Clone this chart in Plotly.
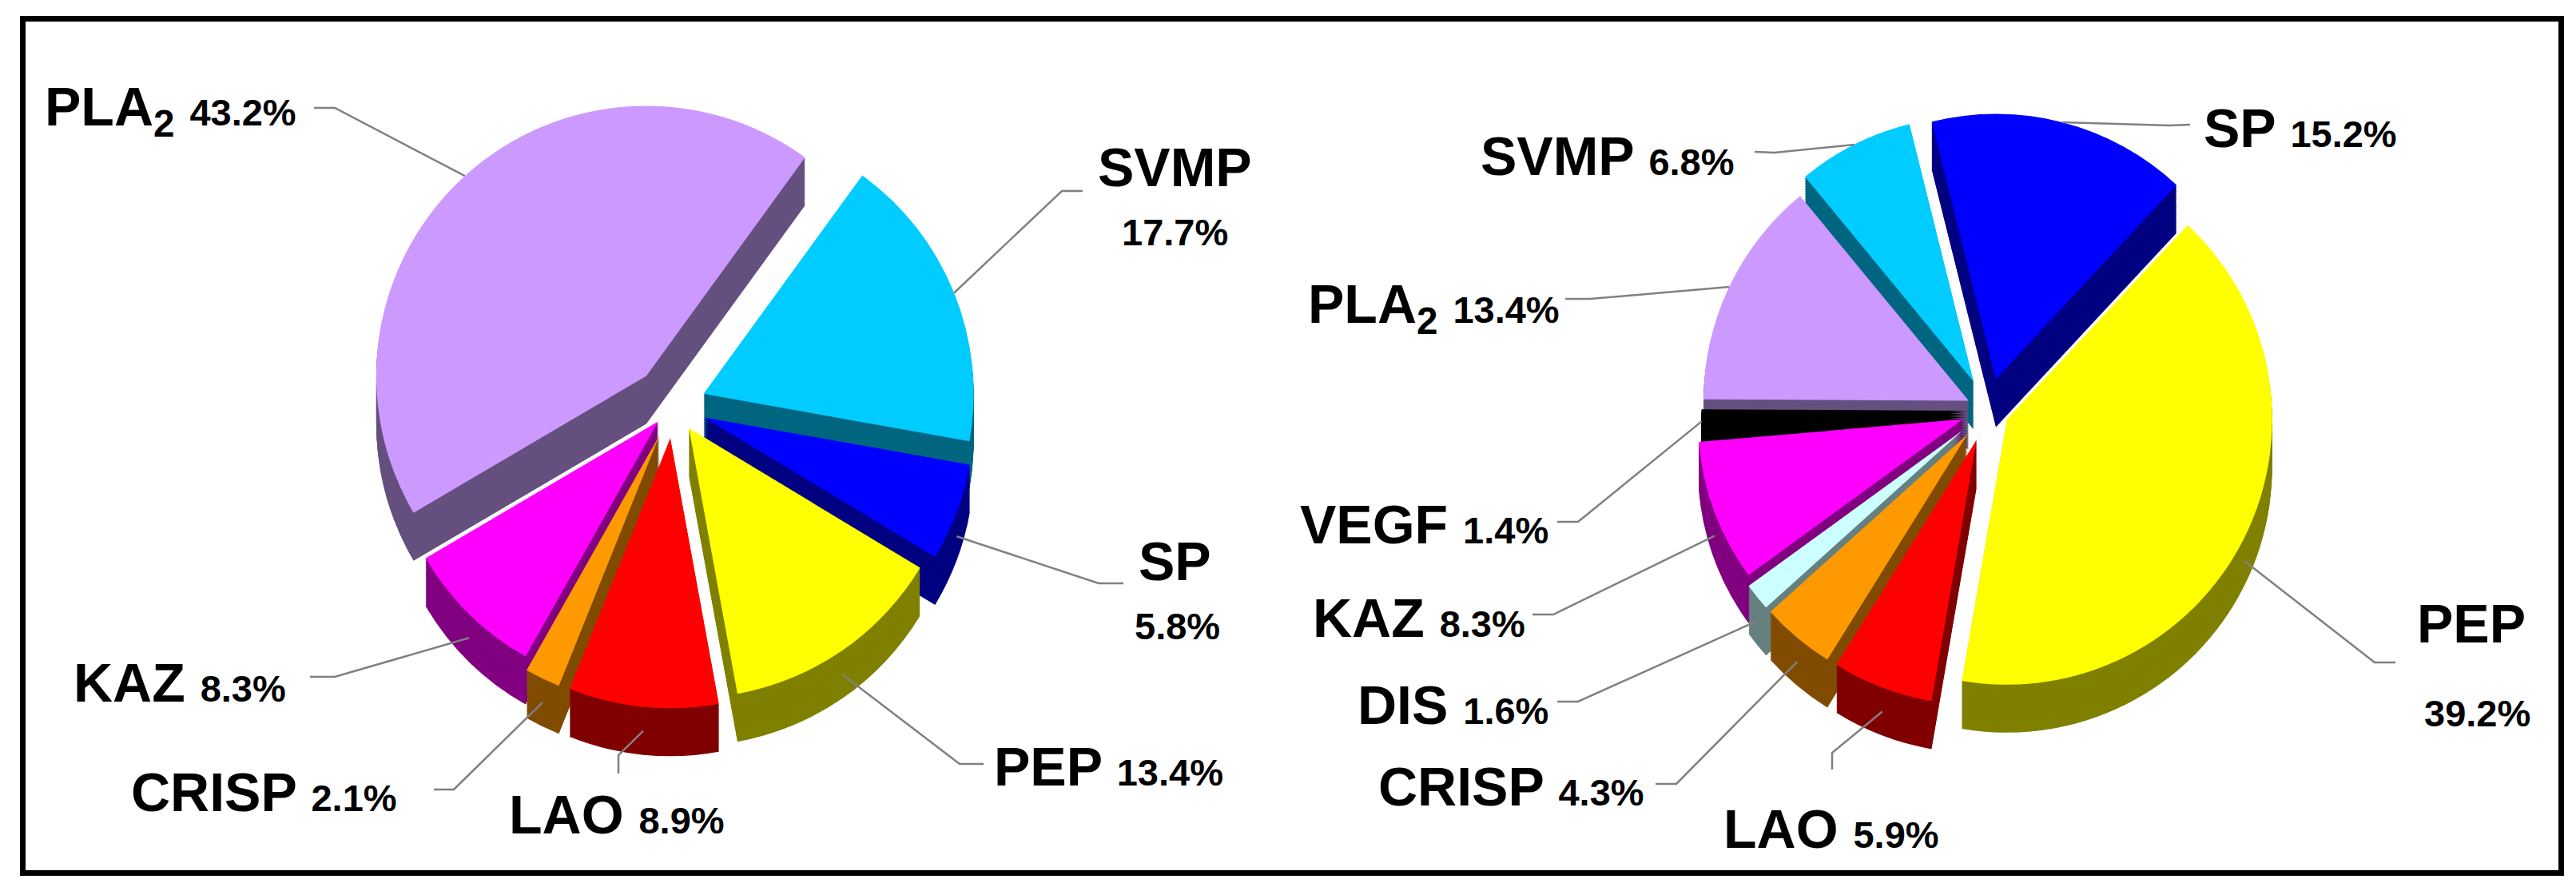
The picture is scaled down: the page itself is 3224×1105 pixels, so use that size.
import math
import plotly.graph_objects as go

W, H = 3224, 1105

# ---------------- data ----------------
left_names = ["SVMP", "SP", "PEP", "LAO", "CRISP", "KAZ", "PLA2"]
left_values = [17.7, 5.8, 13.4, 8.9, 2.1, 8.3, 43.2]

right_names = ["SP", "PEP", "LAO", "CRISP", "DIS", "KAZ", "VEGF", "PLA2", "SVMP"]
right_values = [15.2, 39.2, 5.9, 4.3, 1.6, 8.3, 1.4, 13.4, 6.8]

# ---------------- styles ----------------
top_colors = {"PLA2": "#CC99FF", "SVMP": "#00CCFF", "SP": "#0000FF", "PEP": "#FFFF00",
              "LAO": "#FF0000", "CRISP": "#FF9900", "KAZ": "#FF00FF", "DIS": "#CCFFFF",
              "VEGF": "#000000"}
side_colors = {"PLA2": "#65507F", "SVMP": "#006680", "SP": "#000080", "PEP": "#808000",
               "LAO": "#800000", "CRISP": "#804C00", "KAZ": "#800080", "DIS": "#668080",
               "VEGF": "#000000"}
display = {"PLA2": "PLA<sub>2</sub>"}

FONT = "Liberation Sans, Arial, sans-serif"
NAME_SIZE = 68
PCT_SIZE = 47
THICK = 60
LAYERS = 30

pies = [
    dict(names=left_names, values=left_values, cx=835, cy=500, r=338, rotation=36,
         pulls=[0.12, 0.12, 0.10, 0.12, 0.12, 0.08, 0.15],
         labels={
             "PLA2": dict(mode="inline", pos=(46, 130), line=[(385, 127), (411, 127)]),
             "SVMP": dict(mode="stack", pos=(1462, 201), ppos=(1462, 282), line=[(1347, 231), (1321, 231)]),
             "SP": dict(mode="stack", pos=(1462, 694), ppos=(1465, 775), line=[(1398, 722), (1367, 722)]),
             "PEP": dict(mode="inline", pos=(1234, 951), line=[(1223, 948), (1193, 948)]),
             "LAO": dict(mode="inline", pos=(627, 1011), line=[(766, 960), (766, 937)]),
             "CRISP": dict(mode="inline", pos=(154, 983), line=[(535, 980), (560, 980)]),
             "KAZ": dict(mode="inline", pos=(82, 846), line=[(380, 839), (411, 839)]),
         }),
    dict(names=right_names, values=right_values, cx=2480, cy=505, r=332, rotation=-14,
         pulls=[0.12, 0.08, 0.12, 0.12, 0.12, 0.10, 0.08, 0.08, 0.12],
         labels={
             "SP": dict(mode="inline", pos=(2748, 152), line=[(2733, 148), (2707, 149)]),
             "SVMP": dict(mode="inline", pos=(1843, 187), line=[(2188, 182), (2213, 183)]),
             "PLA2": dict(mode="inline", pos=(1627, 377), line=[(1951, 366), (1982, 366)]),
             "VEGF": dict(mode="inline", pos=(1617, 648), line=[(1941, 645), (1967, 645)]),
             "KAZ": dict(mode="inline", pos=(1633, 765), line=[(1910, 761), (1936, 761)]),
             "DIS": dict(mode="inline", pos=(1689, 874), line=[(1941, 870), (1967, 870)]),
             "CRISP": dict(mode="inline", pos=(1715, 976), line=[(2064, 973), (2090, 973)]),
             "LAO": dict(mode="inline", pos=(2147, 1029), line=[(2285, 955), (2285, 934)]),
             "PEP": dict(mode="stack", pos=(3085, 772), ppos=(3092, 884), line=[(2990, 821), (2964, 821)]),
         }),
]


def px(x):
    return x / W


def py(y):
    return 1 - y / H


fig = go.Figure()
annotations = []
shapes = []

for pie in pies:
    names, values = pie["names"], pie["values"]
    cx, cy, r = pie["cx"], pie["cy"], pie["r"]
    hb = r * (1 + max(pie["pulls"]))
    # side (thickness) layers, deepest first, then the top face
    offsets = [THICK * k / LAYERS for k in range(LAYERS, 0, -1)] + [0]
    for off in offsets:
        cols = [top_colors[n] for n in names] if off == 0 else [side_colors[n] for n in names]
        fig.add_trace(go.Pie(
            labels=[display.get(n, n) for n in names],
            values=values,
            sort=False,
            direction="clockwise",
            rotation=pie["rotation"],
            pull=pie["pulls"],
            marker=dict(colors=cols, line=dict(width=0)),
            textinfo="none",
            hoverinfo="label+percent" if off == 0 else "skip",
            showlegend=False,
            domain=dict(x=[px(cx - hb), px(cx + hb)],
                        y=[py(cy + off + hb), py(cy + off - hb)]),
        ))

    tot = sum(values)
    for i, n in enumerate(names):
        spec = pie["labels"][n]
        pct = f"{values[i]:.1f}%"
        name = display.get(n, n)
        if spec["mode"] == "inline":
            annotations.append(dict(
                x=px(spec["pos"][0]), y=py(spec["pos"][1]), xref="paper", yref="paper",
                xanchor="left", yanchor="middle", showarrow=False,
                text=f"<b>{name} <span style='font-size:{PCT_SIZE}px'>{pct}</span></b>",
                font=dict(family=FONT, size=NAME_SIZE, color="#000000")))
        else:
            annotations.append(dict(
                x=px(spec["pos"][0]), y=py(spec["pos"][1]), xref="paper", yref="paper",
                xanchor="center", yanchor="middle", showarrow=False,
                text=f"<b>{name}</b>",
                font=dict(family=FONT, size=NAME_SIZE, color="#000000")))
            annotations.append(dict(
                x=px(spec["ppos"][0]), y=py(spec["ppos"][1]), xref="paper", yref="paper",
                xanchor="center", yanchor="middle", showarrow=False,
                text=f"<b>{pct}</b>",
                font=dict(family=FONT, size=PCT_SIZE, color="#000000")))

        # leader line end point on the slice edge, computed from the data
        start = pie["rotation"] + 360 * sum(values[:i]) / tot
        mid = math.radians(start + 180 * values[i] / tot)
        p = pie["pulls"][i]
        scx = cx + p * r * math.sin(mid)
        scy = cy - p * r * math.cos(mid)
        ex = scx + r * math.sin(mid)
        ey = scy - r * math.cos(mid)
        if math.cos(mid) < -0.2:
            ey += THICK * 0.5
        (x1, y1), (x2, y2) = spec["line"]
        shapes.append(dict(
            type="path", xref="paper", yref="paper",
            path=f"M {px(x1)},{py(y1)} L {px(x2)},{py(y2)} L {px(ex)},{py(ey)}",
            line=dict(color="#808080", width=2.5)))

# outer frame
shapes.append(dict(type="rect", xref="paper", yref="paper",
                   x0=px(20.5), x1=px(3197.5), y0=py(1084.5), y1=py(15.5),
                   line=dict(color="#000000", width=7), fillcolor="rgba(0,0,0,0)"))

fig.update_layout(
    width=W, height=H,
    margin=dict(l=0, r=0, t=0, b=0),
    paper_bgcolor="#FFFFFF",
    plot_bgcolor="#FFFFFF",
    annotations=annotations,
    shapes=shapes,
    font=dict(family=FONT),
)

fig.write_html("out.html")
